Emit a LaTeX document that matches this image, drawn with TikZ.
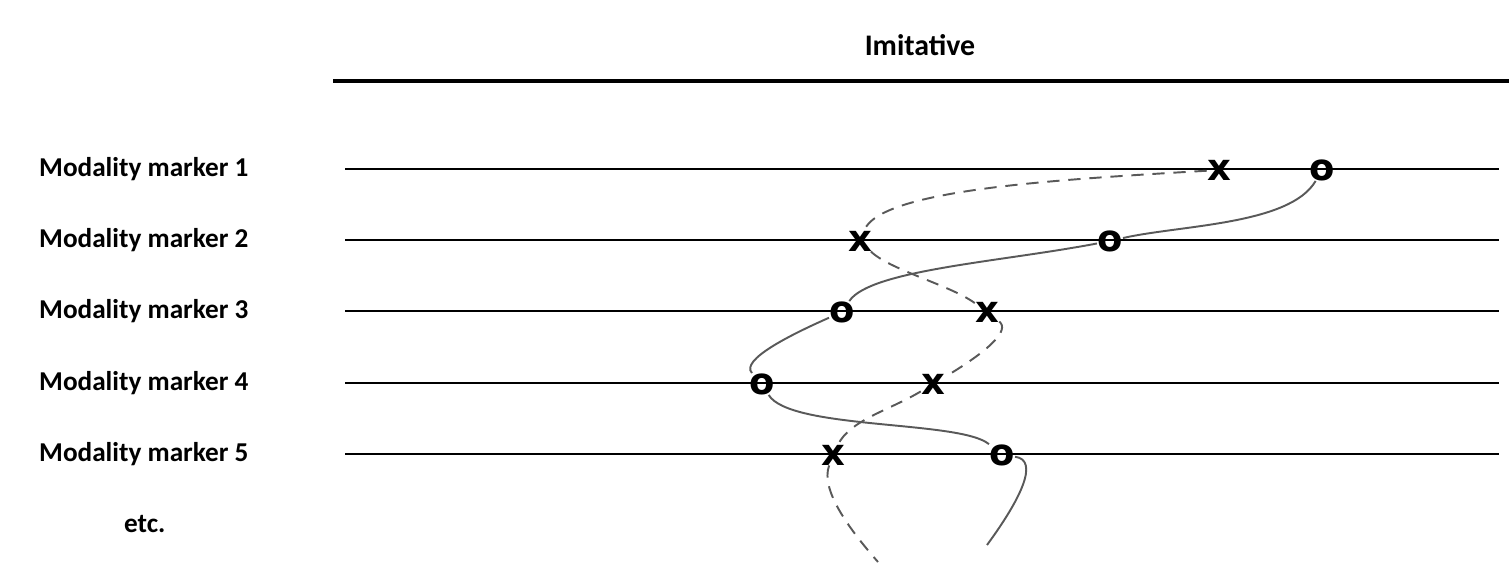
\documentclass[tikz,border=0pt]{standalone}
\usepackage{fontspec}
\setmainfont{Carlito}
\newfontfamily\mkfont{DejaVu Sans}
\begin{document}
\begin{tikzpicture}[x=0.02cm,y=-0.02cm,
 lbl/.style={anchor=west,font=\fontsize{15.5}{17}\selectfont\bfseries},
 mk/.style={font=\fontsize{21}{21}\selectfont\mkfont\bfseries,inner sep=0pt},
 rule/.style={line width=0.9pt},
 sol/.style={gray!70!black,line width=1.1pt},
 dsh/.style={gray!70!black,line width=1.1pt,dash pattern=on 7pt off 5pt}]
\useasboundingbox (0,0) rectangle (1509,568);
\node[font=\fontsize{17}{19}\selectfont\bfseries] (title) at (920,45) {Imitative};
\coordinate (tl) at (333,81); \coordinate (tr) at (1509,81);
\draw[line width=2pt] (tl) -- (tr);
\foreach \i/\y in {1/169,2/240,3/311,4/383,5/454}{
  \node[lbl] (l\i) at (33,\y) {Modality marker \i};
  \coordinate (a\i) at (345,\y); \coordinate (b\i) at (1499,\y);
  \draw[rule] (a\i) -- (b\i);
}
\node[lbl] (etc) at (118,524) {etc.};
% o markers
\node[mk] (o1) at (1322,170) {o};
\node[mk] (o2) at (1110,241) {o};
\node[mk] (o3) at (842,312) {o};
\node[mk] (o4) at (762,384) {o};
\node[mk] (o5) at (1002,455) {o};
% x markers
\node[mk] (x1) at (1219,170) {x};
\node[mk] (x2) at (860,241) {x};
\node[mk] (x3) at (987,312) {x};
\node[mk] (x4) at (933,384) {x};
\node[mk] (x5) at (833,455) {x};
\coordinate (se) at (987,545);
\coordinate (de) at (878,562);
% solid curve
\draw[sol] (o1) .. controls (1290,225) and (1180,225) .. (o2)
  .. controls (1000,262) and (870,270) .. (o3)
  .. controls (790,335) and (740,360) .. (o4)
  .. controls (790,430) and (960,420) .. (o5)
  .. controls (1040,460) and (1020,500) .. (se);
% dashed curve
\draw[dsh] (x1) .. controls (1050,180) and (880,190) .. (x2)
  .. controls (890,270) and (950,285) .. (x3)
  .. controls (1010,330) and (990,350) .. (x4)
  .. controls (890,410) and (850,420) .. (x5)
  .. controls (820,490) and (850,530) .. (de);
\end{tikzpicture}
\end{document}
